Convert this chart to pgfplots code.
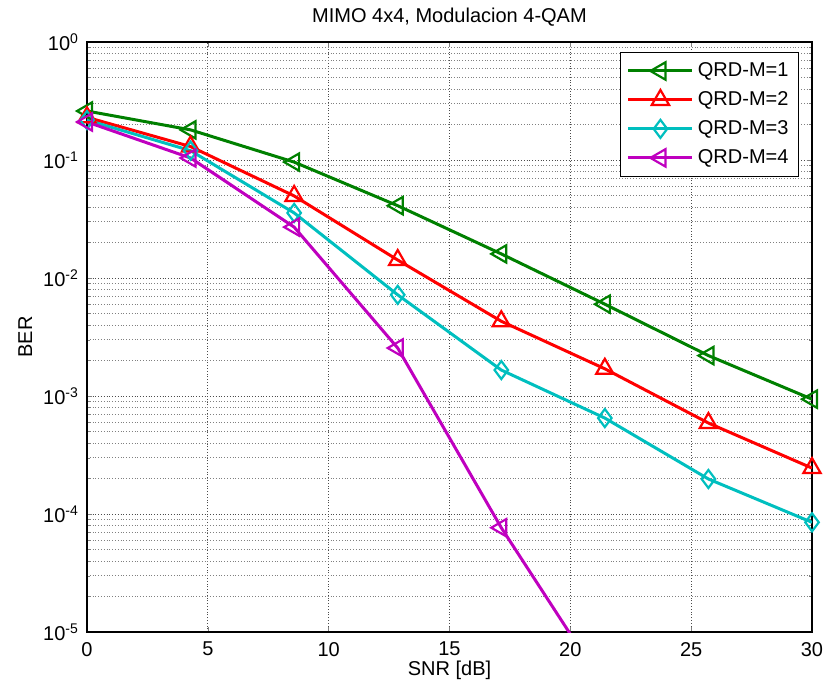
\documentclass[border=0pt]{standalone}
\usepackage{fontspec}
\setmainfont{Liberation Sans}
\usepackage{pgfplots}
\pgfplotsset{compat=1.18}

\definecolor{mgreen}{rgb}{0,0.5,0}
\definecolor{mcyan}{rgb}{0,0.75,0.75}
\definecolor{mmag}{rgb}{0.75,0,0.75}

\newcommand{\fnt}{\fontsize{10}{12}\selectfont}

\begin{document}
\begin{tikzpicture}
% page size fixed to the reference's frame round the axis
\useasboundingbox (-43.5pt,-29pt) rectangle (369pt,316pt);
\begin{axis}[
    name=ax,
    at={(0,0)}, anchor=south west,
    scale only axis,
    width=362.5pt, height=295pt,
    ymode=log,
    xmin=0, xmax=30,
    ymin=1e-5, ymax=1,
    xtick={0,5,...,30},
    ytick={1e-5,1e-4,1e-3,1e-2,1e-1,1},
    yticklabels={10\textsuperscript{-5},10\textsuperscript{-4},10\textsuperscript{-3},10\textsuperscript{-2},10\textsuperscript{-1},10\textsuperscript{0}},
    /pgf/number format/assume math mode=true,
    tick label style={font=\fnt},
    xticklabel style={yshift=-1.5pt},
    yticklabel style={xshift=-0.5pt},
    tick align=inside,
    major tick length=2.5pt,
    minor tick length=1.5pt,
    xmajorgrids, ymajorgrids, yminorgrids,
    major grid style={densely dotted, black!70, line width=0.45pt},
    minor grid style={densely dotted, black!50, line width=0.4pt},
    axis line style={line width=0.6pt},
    title={MIMO 4x4, Modulacion 4-QAM},
    title style={font=\fnt, at={(axis description cs:0.5,1)}, anchor=center, yshift=6.5pt},
    xlabel={SNR [dB]},
    xlabel style={font=\fnt, at={(axis description cs:0.5,0)}, anchor=center, yshift=-19pt},
    ylabel={BER},
    ylabel style={font=\fnt, at={(axis description cs:-0.085,0.5)}, anchor=center},
    legend style={at={(1,1)}, anchor=north east, xshift=-6.5pt, yshift=-5pt,
        draw=black, fill=white, font=\fnt, row sep=2pt, inner xsep=3pt, inner ysep=3pt,
        line width=0.5pt},
    legend cell align=left,
    legend image code/.code={
        \draw[mark repeat=2,mark phase=2,#1] plot coordinates {(0pt,0pt) (16pt,0pt) (32pt,0pt)};
    },
    every axis plot/.append style={line width=1.5pt},
]
\addplot[mgreen, mark=triangle, mark size=5pt, mark options={solid, line width=1.1pt, rotate=90}] coordinates {
    (0, 0.26) (4.2857, 0.18) (8.5714, 0.096) (12.8571, 0.041)
    (17.1429, 0.016) (21.4286, 0.0060) (25.7143, 0.0022) (30, 0.00094)
};
\addplot[red, mark=triangle, mark size=5pt, mark options={solid, line width=1.1pt}] coordinates {
    (0, 0.23) (4.2857, 0.13) (8.5714, 0.0496) (12.8571, 0.0142)
    (17.1429, 0.0043) (21.4286, 0.0017) (25.7143, 0.00059) (30, 0.000245)
};
\addplot[mcyan, mark=diamond, mark size=4.5pt, mark options={solid, line width=1.1pt}] coordinates {
    (0, 0.218) (4.2857, 0.12) (8.5714, 0.0356) (12.8571, 0.0072)
    (17.1429, 0.00166) (21.4286, 0.00065) (25.7143, 0.000198) (30, 0.000085)
};
\addplot[mmag, mark=triangle, mark size=5pt, mark options={solid, line width=1.1pt, rotate=90}] coordinates {
    (0, 0.21) (4.2857, 0.104) (8.5714, 0.027) (12.8571, 0.00255)
    (17.1429, 0.0000765) (21.4286, 0.0000034)
};
\legend{QRD-M=1, QRD-M=2, QRD-M=3, QRD-M=4}
\end{axis}
\end{tikzpicture}
\end{document}
